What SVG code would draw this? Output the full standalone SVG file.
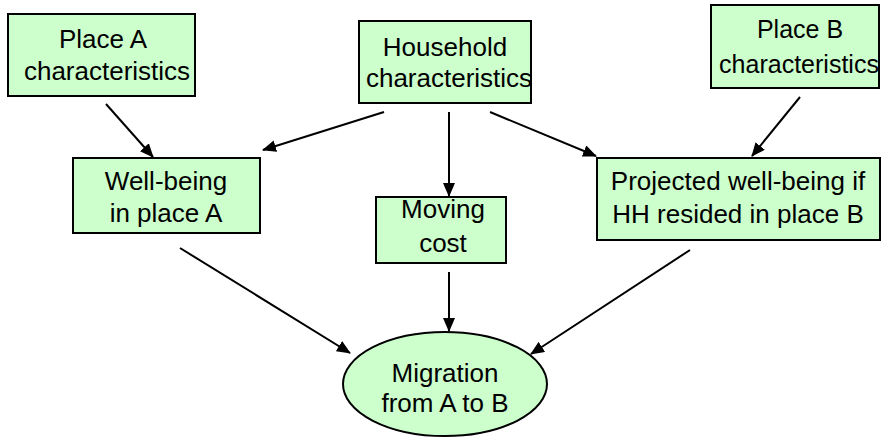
<svg xmlns="http://www.w3.org/2000/svg" width="894" height="438" viewBox="0 0 894 438">
<defs>
<marker id="ah" markerWidth="14" markerHeight="12" refX="13" refY="6" orient="auto" markerUnits="userSpaceOnUse" viewBox="0 0 14 12">
<path d="M0,0 L14,6 L0,12 Z" fill="#000"/>
</marker>
<style>
.box{fill:#ccffcc;stroke:#000;stroke-width:2}
.t{font-family:"Liberation Sans",Arial,sans-serif;font-size:26px;fill:#000;text-anchor:middle}
.c{stroke:#000;stroke-width:2;fill:none;marker-end:url(#ah)}
</style>
</defs>
<g id="connectors">
<line class="c" x1="106" y1="104" x2="153" y2="157"/>
<line class="c" x1="384" y1="112" x2="263" y2="150"/>
<line class="c" x1="449" y1="112" x2="449" y2="196"/>
<line class="c" x1="490" y1="112" x2="596" y2="156"/>
<line class="c" x1="800" y1="97" x2="752" y2="156"/>
<line class="c" x1="180" y1="248" x2="350" y2="353"/>
<line class="c" x1="449" y1="272" x2="449" y2="331"/>
<line class="c" x1="690" y1="250" x2="531" y2="354"/>
</g>
<g id="placeA">
<rect class="box" x="8" y="14" width="187" height="82"/>
<text class="t" x="103" y="48">Place A</text>
<text class="t" x="107" y="80">characteristics</text>
</g>
<g id="household">
<rect class="box" x="359" y="21" width="172" height="82"/>
<text class="t" x="445" y="56">Household</text>
<text class="t" x="449" y="87">characteristics</text>
</g>
<g id="placeB">
<rect class="box" x="711" y="5" width="168" height="83"/>
<text class="t" x="800" y="38" style="font-size:25px">Place B</text>
<text class="t" x="799" y="73" style="font-size:25px">characteristics</text>
</g>
<g id="wellbeingA">
<rect class="box" x="73" y="158" width="187" height="75"/>
<text class="t" x="166" y="190">Well-being</text>
<text class="t" x="166" y="222">in place A</text>
</g>
<g id="movingcost">
<rect class="box" x="376" y="197" width="130" height="66"/>
<text class="t" x="443" y="218">Moving</text>
<text class="t" x="443" y="252">cost</text>
</g>
<g id="projectedB">
<rect class="box" x="597" y="158" width="283" height="82"/>
<text class="t" x="738" y="190">Projected well-being if</text>
<text class="t" x="738" y="223">HH resided in place B</text>
</g>
<g id="migration">
<ellipse cx="445" cy="384" rx="102" ry="52" fill="#ccffcc" stroke="#000" stroke-width="2"/>
<text class="t" x="445" y="382">Migration</text>
<text class="t" x="445" y="412">from A to B</text>
</g>
</svg>
